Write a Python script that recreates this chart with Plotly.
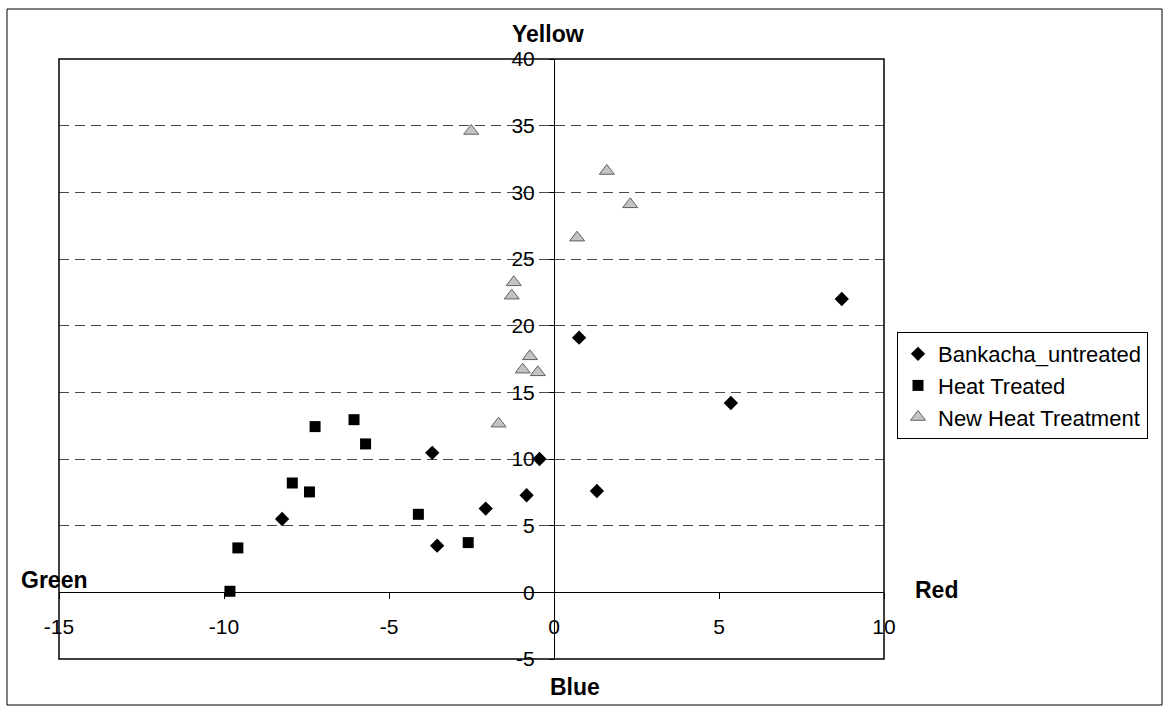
import plotly.graph_objects as go

# Colour coordinates: a* (green -> red) on x, b* (blue -> yellow) on y
x_range = [-15, 10]
y_range = [-5, 40]
tick_step = 5
x_ticks = [-15, -10, -5, 0, 5, 10]
y_ticks = [-5, 0, 5, 10, 15, 20, 25, 30, 35, 40]

series_names = ["Bankacha_untreated", "Heat Treated", "New Heat Treatment"]

untreated_a = [8.72, 0.76, 5.36, 1.30, -0.44, -3.69, -0.83, -2.07, -3.54, -8.24]
untreated_b = [22.0, 19.1, 14.2, 7.6, 10.0, 10.46, 7.28, 6.28, 3.5, 5.5]

heat_a = [-9.82, -9.58, -7.93, -7.41, -7.24, -6.06, -5.71, -4.11, -2.60]
heat_b = [0.08, 3.33, 8.2, 7.53, 12.43, 12.95, 11.13, 5.85, 3.73]

new_heat_a = [-2.51, 1.60, 2.31, 0.70, -1.22, -1.28, -0.73, -0.95, -0.49, -1.68]
new_heat_b = [34.6, 31.6, 29.1, 26.6, 23.25, 22.25, 17.7, 16.7, 16.5, 12.65]

W, H = 1165, 706
ML, MR, MT, MB = 59, 281, 59, 47
PW, PH = W - ML - MR, H - MT - MB


def px_x(px):
    return (px - ML) / PW


def px_y(py):
    return (H - MB - py) / PH


fig = go.Figure()
fig.add_trace(go.Scatter(
    x=untreated_a, y=untreated_b, mode="markers", name=series_names[0],
    marker=dict(symbol="diamond", size=11, color="black"),
))
fig.add_trace(go.Scatter(
    x=heat_a, y=heat_b, mode="markers", name=series_names[1],
    marker=dict(symbol="square", size=11, color="black"),
))
fig.add_trace(go.Scatter(
    x=new_heat_a, y=new_heat_b, mode="markers", name=series_names[2],
    marker=dict(symbol="triangle-up", size=13, color="#c4c4c4",
                line=dict(color="#606060", width=1)),
))

# axes cross at the origin
x_pos = (0 - y_range[0]) / (y_range[1] - y_range[0])
y_pos = (0 - x_range[0]) / (x_range[1] - x_range[0])

fig.update_layout(
    width=W, height=H,
    margin=dict(l=ML, r=MR, t=MT, b=MB, autoexpand=False),
    plot_bgcolor="white", paper_bgcolor="white",
    font=dict(family="Liberation Sans, Arial, sans-serif", color="black", size=21),
    xaxis=dict(
        range=x_range, tickmode="array",
        tickvals=x_ticks, ticktext=[str(v) for v in x_ticks],
        showgrid=False, zeroline=False,
        showline=True, linecolor="black", linewidth=1,
        anchor="free", position=x_pos,
        ticks="outside", ticklen=6, tickcolor="black",
        ticklabelstandoff=9,
        tickfont=dict(size=21, color="black"),
    ),
    yaxis=dict(
        range=y_range, tickmode="array",
        tickvals=y_ticks, ticktext=[str(v) for v in y_ticks],
        showgrid=True, gridcolor="#4a4a4a", gridwidth=1, griddash="10px,6px",
        zeroline=False,
        showline=True, linecolor="black", linewidth=1,
        anchor="free", position=y_pos,
        ticks="outside", ticklen=5, tickcolor="black",
        ticklabelstandoff=10,
        tickfont=dict(size=21, color="black"),
    ),
    legend=dict(
        x=px_x(897), y=px_y(332), xanchor="left", yanchor="top",
        bordercolor="black", borderwidth=1, bgcolor="white",
        font=dict(size=22, color="black"), tracegroupgap=0,
    ),
    shapes=[
        dict(type="rect", xref="paper", yref="paper", x0=0, x1=1, y0=0, y1=1,
             line=dict(color="black", width=1.5)),
        dict(type="rect", xref="paper", yref="paper",
             x0=px_x(7), x1=px_x(1162), y0=px_y(705), y1=px_y(9),
             line=dict(color="black", width=1)),
    ],
    annotations=[
        dict(text="<b>Yellow</b>", x=px_x(547.5), y=px_y(34), xref="paper", yref="paper",
             showarrow=False, xanchor="center", yanchor="middle", font=dict(size=23)),
        dict(text="<b>Green</b>", x=px_x(53.5), y=px_y(580), xref="paper", yref="paper",
             showarrow=False, xanchor="center", yanchor="middle", font=dict(size=23)),
        dict(text="<b>Red</b>", x=px_x(936), y=px_y(590), xref="paper", yref="paper",
             showarrow=False, xanchor="center", yanchor="middle", font=dict(size=23)),
        dict(text="<b>Blue</b>", x=px_x(575), y=px_y(687), xref="paper", yref="paper",
             showarrow=False, xanchor="center", yanchor="middle", font=dict(size=23)),
    ],
)

fig.write_html("out.html")
